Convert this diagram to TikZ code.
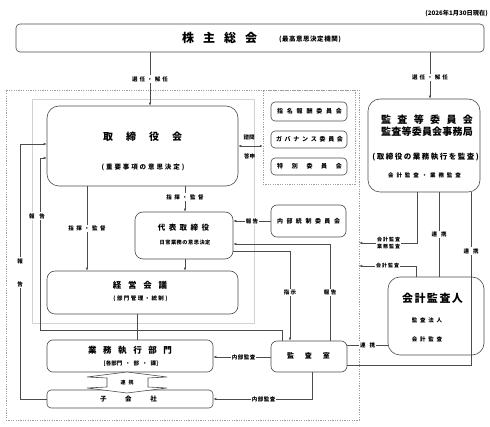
\documentclass[tikz,border=0pt]{standalone}
\usepackage{fontspec}
\setmainfont{Noto Sans CJK JP}
\usetikzlibrary{arrows.meta}
\makeatletter
\newcommand\spc[2]{\def\spc@gap{#1}\spc@a#2\relax}
\def\spc@a#1{\ifx#1\relax\else#1\expandafter\spc@b\fi}
\def\spc@b#1{\ifx#1\relax\else\hspace{\spc@gap}#1\expandafter\spc@b\fi}
\makeatother
\newcommand\fsz[1]{\fontsize{#1}{#1}\selectfont\bfseries}
\begin{document}
\begin{tikzpicture}[x=1pt,y=-1pt,
  bx/.style={draw=black!70, line width=0.6pt, inner sep=0pt, fill=white},
  tx/.style={inner sep=0pt, text=black},
  lb/.style={fill=white, inner sep=1pt, font=\fsz{5.5}},
  ln/.style={draw=black!70, line width=0.6pt},
  arr/.style={ln, -{Latex[length=3pt,width=2.6pt]}},
  dframe/.style={draw=gray!75, dash pattern=on 1.2pt off 1.2pt, line width=0.5pt, inner sep=0pt}]
\useasboundingbox (0,0) rectangle (490,427);
% frames
\node[dframe, minimum width=353pt, minimum height=330pt] (oframe) at (182.5,255) {};
\draw[gray!35, line width=0.9pt] (32,99) rectangle (254,323);
\node[dframe, minimum width=92pt, minimum height=94pt] (cframe) at (309,137) {};
% date
\node[tx, anchor=east, font=\fsz{6.2}] (date) at (488,13) {(2026年1月30日現在)};
% boxes
\node[bx, rounded corners=4pt, minimum width=468pt, minimum height=28pt] (agm) at (250,38) {};
\node[bx, rounded corners=12pt, minimum width=191pt, minimum height=80pt] (board) at (142.5,146) {};
\node[bx, rounded corners=8pt, minimum width=98pt, minimum height=47pt] (rep) at (184,235.5) {};
\node[bx, rounded corners=8pt, minimum width=191pt, minimum height=43pt] (mgmt) at (142.5,292.5) {};
\node[bx, rounded corners=6pt, minimum width=166pt, minimum height=32pt] (exec) at (130,356) {};
\node[bx, rounded corners=4pt, minimum width=166pt, minimum height=18pt] (sub) at (130,399) {};
\node[bx, rounded corners=6pt, minimum width=76pt, minimum height=31pt] (auditoff) at (309,356.5) {};
\node[bx, rounded corners=6pt, minimum width=75pt, minimum height=32pt] (icc) at (308.5,221) {};
\node[bx, rounded corners=4pt, minimum width=76pt, minimum height=19pt] (nom) at (309,111.5) {};
\node[bx, rounded corners=4pt, minimum width=76pt, minimum height=17pt] (gov) at (309,139.5) {};
\node[bx, rounded corners=4pt, minimum width=76pt, minimum height=17pt] (spec) at (309,166.5) {};
\node[bx, rounded corners=12pt, minimum width=112pt, minimum height=93pt] (acbox) at (424,145.5) {};
\node[bx, rounded corners=12pt, minimum width=96pt, minimum height=78pt] (extaud) at (436,316) {};
% box texts
\node[tx, font=\fsz{12}] (agmT) at (219.5,38) {\spc{9pt}{株主総会}};
\node[tx, font=\fsz{6.5}] (agmS) at (310,39) {\spc{0.5pt}{(最高意思決定機関)}};
\node[tx, font=\fsz{10}] (boardT) at (142.5,137) {\spc{13pt}{取締役会}};
\node[tx, font=\fsz{6.5}] (boardS) at (143,167) {\spc{1.9pt}{(重要事項の意思決定)}};
\node[tx, font=\fsz{7.5}] (repT) at (183.5,228) {\spc{3.4pt}{代表取締役}};
\node[tx, font=\fsz{5.2}] (repS) at (185,243) {\spc{0.5pt}{日常業務の意思決定}};
\node[tx, font=\fsz{8.5}] (mgmtT) at (140,285) {\spc{6.7pt}{経営会議}};
\node[tx, font=\fsz{5.5}] (mgmtS) at (140.5,299) {\spc{1.4pt}{(部門管理・統制)}};
\node[tx, font=\fsz{8.5}] (execT) at (130,350) {\spc{6.6pt}{業務執行部門}};
\node[tx, font=\fsz{5.5}] (execS) at (131,364) {[各部門\hspace{3pt}・\hspace{3pt}部\hspace{3pt}・\hspace{3pt}課]};
\node[tx, font=\fsz{6.5}] (subT) at (128.5,399) {\spc{18.7pt}{子会社}};
\node[tx, font=\fsz{7}] (auditT) at (308.5,356) {\spc{11pt}{監査室}};
\node[tx, font=\fsz{6}] (iccT) at (308.5,221) {\spc{3.5pt}{内部統制委員会}};
\node[tx, font=\fsz{6}] (nomT) at (309.5,111.5) {\spc{3.8pt}{指名報酬委員会}};
\node[tx, font=\fsz{6}] (govT) at (309.5,139.5) {\spc{2.7pt}{ガバナンス委員会}};
\node[tx, font=\fsz{6}] (specT) at (309.5,166.5) {\spc{8.7pt}{特別委員会}};
\node[tx, font=\fsz{10}] (acT1) at (427,120) {\spc{6.4pt}{監査等委員会}};
\node[tx, font=\fsz{10}] (acT2) at (427,132) {\spc{0.2pt}{監査等委員会事務局}};
\node[tx, font=\fsz{7.5}] (acS) at (425.5,157) {\spc{1.5pt}{(取締役の業務執行を監査)}};
\node[tx, font=\fsz{5.5}] (acS2) at (424.5,175) {\spc{2.9pt}{会計監査・業務監査}};
\node[tx, font=\fsz{11}] (extT) at (432.5,298) {\spc{1.5pt}{会計監査人}};
\node[tx, font=\fsz{5.5}] (extS1) at (427,320) {\spc{2.7pt}{監査法人}};
\node[tx, font=\fsz{5.5}] (extS2) at (427,339) {\spc{2.7pt}{会計監査}};
% double arrow 連携
\draw[ln, fill=white] (127,372) -- (167,377) -- (148,378) -- (148,387) -- (167,388) -- (127,393) -- (87,388) -- (107,387) -- (107,378) -- (87,377) -- cycle;
\node[tx, font=\fsz{5}] (renT) at (127,382.5) {\spc{3pt}{連携}};
% connectors
\draw[arr] (agm.south -| 150,0) -- (board.north -| 150,0) node[lb, pos=0.5] (l1) {\spc{2.1pt}{選任・解任}};
\draw[arr] (agm.south -| 430,0) -- (acbox.north -| 430,0) node[lb, pos=0.55] (l2) {\spc{2.1pt}{選任・解任}};
\draw[arr] (board.south -| 185,0) -- (rep.north -| 185,0) node[lb, pos=0.42] (l3) {\spc{2.4pt}{指揮・監督}};
\draw[arr] (board.south -| 87,0) -- (mgmt.north -| 87,0) node[lb, pos=0.5] (l4) {\spc{2.4pt}{指揮・監督}};
\draw[arr] (rep.south -| 185,0) -- (mgmt.north -| 185,0);
\draw[ln] (mgmt.south -| 137,0) -- (exec.north -| 137,0);
\draw[ln, {Latex[length=3pt,width=2.6pt]}-{Latex[length=3pt,width=2.6pt]}] (board.east |- 0,146) -- (cframe.west |- 0,146);
\node[tx, font=\fsz{5.5}] (l5) at (249,137) {諮問};
\node[tx, font=\fsz{5.5}] (l6) at (249.5,156) {答申};
\draw[arr] (icc.west) -- (rep.east |- icc.west) node[lb, midway] (l7) {\spc{1.5pt}{報告}};
\draw[arr] (rep.east |- 0,251) -| (auditoff.north -| 290,0) node[lb, pos=0.73] (l8) {\spc{1.5pt}{指示}};
\draw[arr] (auditoff.north -| 330,0) |- (rep.east |- 0,244) node[lb, pos=0.25] (l9) {\spc{1.5pt}{報告}};
\draw[arr] (auditoff.north -| 282,0) -- (282,330) -- (40,330) -- (40,158) -- (board.west |- 0,158);
\node[lb] (l10) at (37,216) {\spc{5pt}{報告}};
\draw[arr] (sub.west) -- (20,399) -- (20,144) -- (board.west |- 0,144);
\node[lb, align=center] (l11) at (20,272.5) {報\\[17.5pt]告};
\draw[arr] (auditoff.west |- 0,357) -- (exec.east |- 0,357) node[lb, pos=0.47] (l12) {\spc{0.5pt}{内部監査}};
\draw[arr] (auditoff.south -| 312,0) |- (sub.east) node[lb, pos=0.745] (l13) {\spc{0.5pt}{内部監査}};
\draw[ln] (auditoff.east |- 0,345) -- (extaud.west |- 0,345) node[lb, midway] (l14) {\spc{4pt}{連携}};
\draw[ln] (acbox.south -| 471,0) |- (auditoff.east |- 0,365) node[lb, pos=0.17] (l15) {\spc{4pt}{連携}};
\draw[arr] (acbox.south -| 417,0) |- (oframe.east |- 0,243);
\node[lb, align=center, font=\fsz{5}] (l16) at (388.5,243) {\spc{1pt}{会計監査}\\[2.5pt]\spc{1pt}{業務監査}};
\draw[arr] (extaud.north -| 416,0) |- (oframe.east |- 0,266);
\node[lb, font=\fsz{5}] (l17) at (387.5,266) {\spc{1pt}{会計監査}};
\draw[ln] (acbox.south -| 439,0) -- (extaud.north -| 439,0) node[lb, pos=0.5] (l18) {\spc{4pt}{連携}};
\end{tikzpicture}
\end{document}
